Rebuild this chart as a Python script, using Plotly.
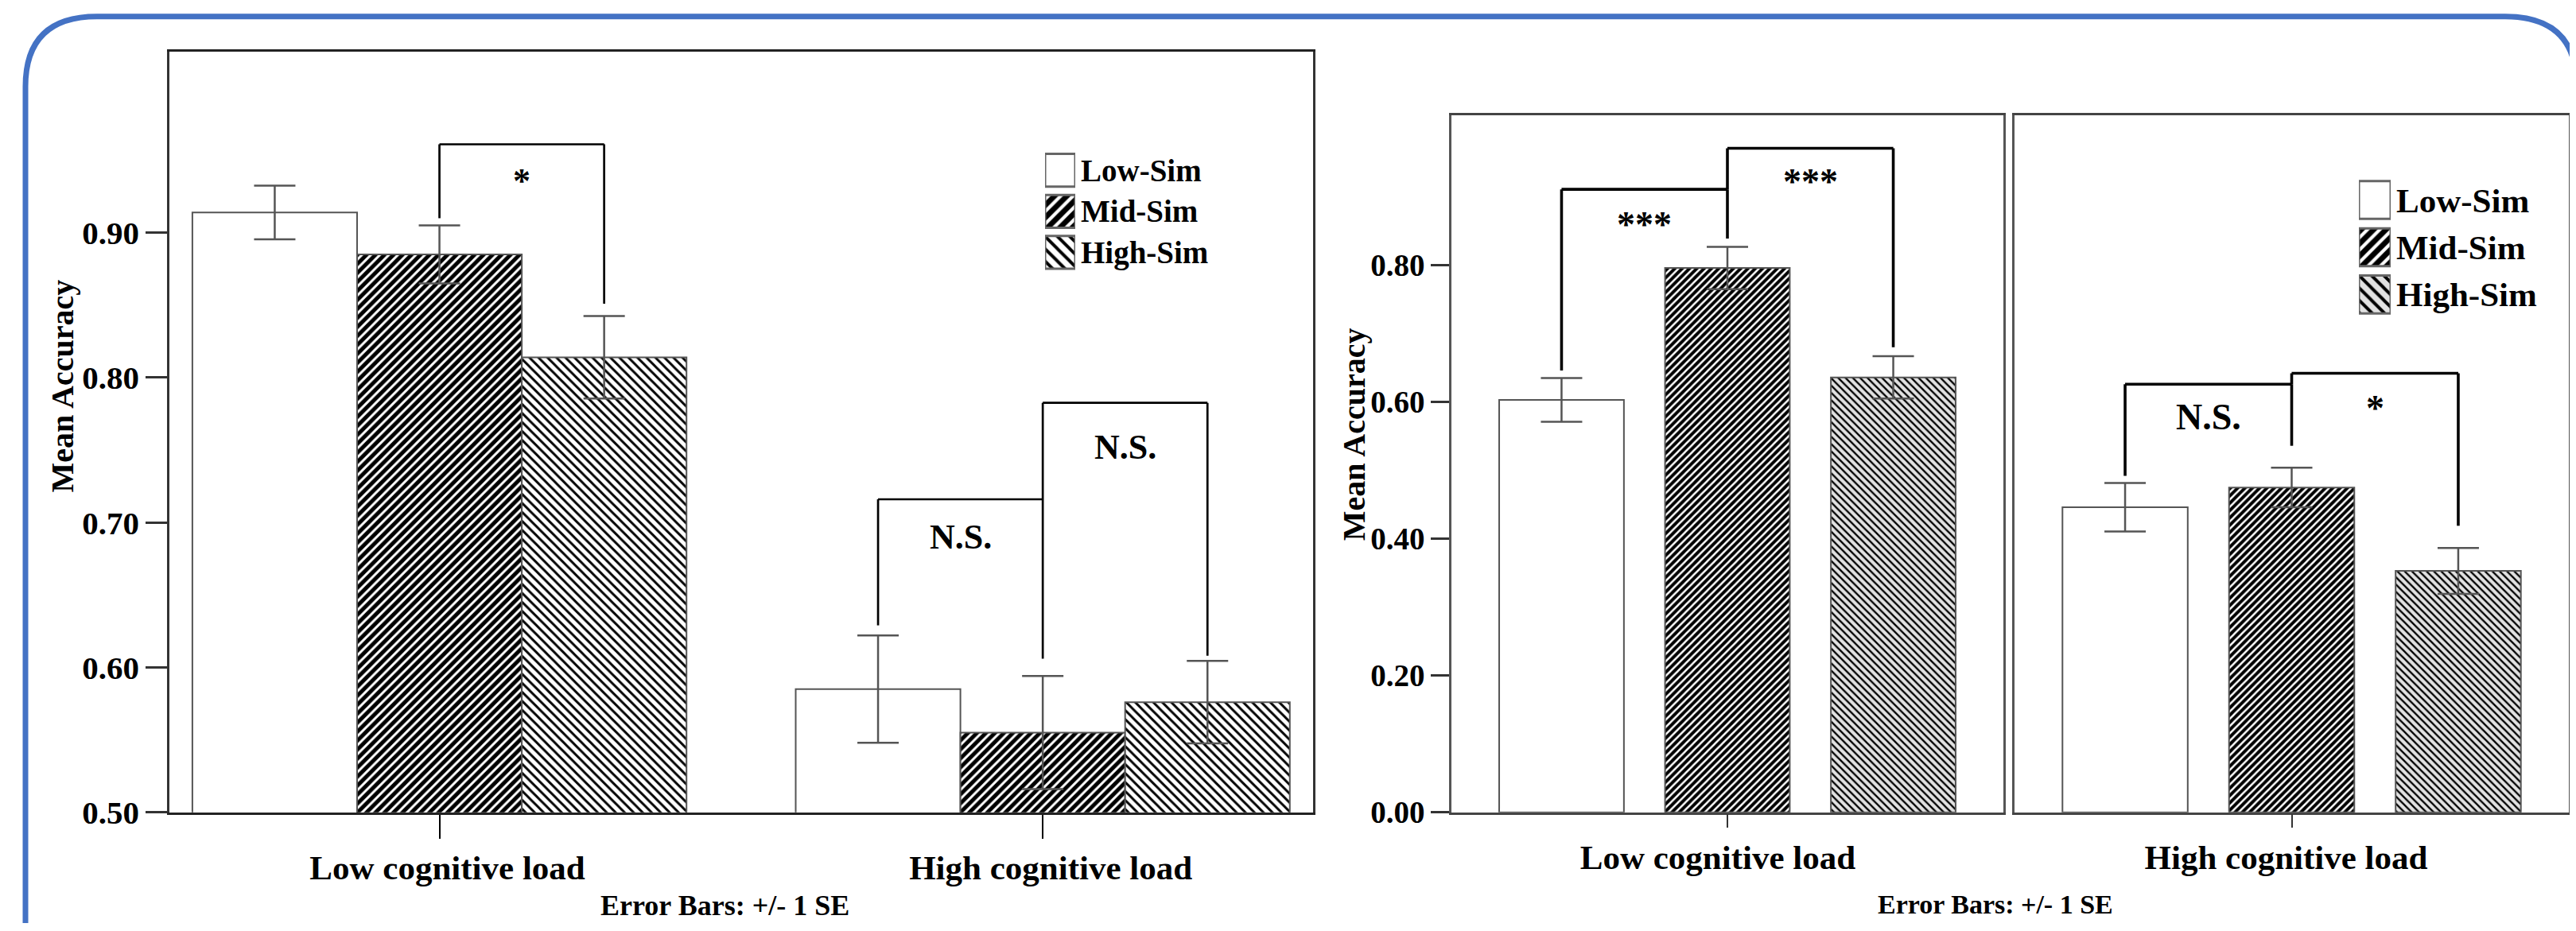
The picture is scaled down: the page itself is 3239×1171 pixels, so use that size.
import plotly.graph_objects as go

W, H = 3239, 1171

# ---------------- data ----------------
series = ["Low-Sim", "Mid-Sim", "High-Sim"]
loads = ["Low cognitive load", "High cognitive load"]

# left chart: mean accuracy and SE per load (low, high)
e1_low_sim = [0.914, 0.585]
e1_mid_sim = [0.885, 0.555]
e1_high_sim = [0.814, 0.576]
e1_low_sim_se = [0.0185, 0.037]
e1_mid_sim_se = [0.020, 0.039]
e1_high_sim_se = [0.0285, 0.0285]

# right chart
e2_low_sim = [0.603, 0.446]
e2_mid_sim = [0.796, 0.475]
e2_high_sim = [0.636, 0.353]
e2_low_sim_se = [0.032, 0.0355]
e2_mid_sim_se = [0.031, 0.029]
e2_high_sim_se = [0.031, 0.0335]

e1_ticks = [0.5, 0.6, 0.7, 0.8, 0.9]
e2_ticks = [0.0, 0.2, 0.4, 0.6, 0.8]

# significance brackets: load, series a, series b, top, leg a bottom, leg b bottom, label, label y
e1_brackets = [
    ("Low cognitive load", "Mid-Sim", "High-Sim", 0.961, 0.910, 0.851, "*", 0.936),
    ("High cognitive load", "Low-Sim", "Mid-Sim", 0.716, 0.629, 0.606, "N.S.", 0.690),
    ("High cognitive load", "Mid-Sim", "High-Sim", 0.7826, 0.716, 0.608, "N.S.", 0.752),
]
e2_brackets = [
    ("Low cognitive load", "Low-Sim", "Mid-Sim", 0.911, 0.646, 0.839, "***", 0.860),
    ("Low cognitive load", "Mid-Sim", "High-Sim", 0.971, 0.911, 0.680, "***", 0.922),
    ("High cognitive load", "Low-Sim", "Mid-Sim", 0.626, 0.492, 0.536, "N.S.", 0.578),
    ("High cognitive load", "Mid-Sim", "High-Sim", 0.642, 0.626, 0.419, "*", 0.591),
]

# ---------------- styles ----------------
FONT = "Liberation Serif"
E1_W = 0.273      # bar width (category units), left chart
E2_W = 0.226      # bar width, right chart
E2_STEP = 0.3005  # spacing between bar centres, right chart

e1_pat = {
    "Low-Sim": dict(shape="", fgcolor="black", bgcolor="white", size=8, solidity=0.3),
    "Mid-Sim": dict(shape="/", fgcolor="white", bgcolor="black", size=8, solidity=0.38),
    "High-Sim": dict(shape="\\", fgcolor="black", bgcolor="white", size=8, solidity=0.36),
}
e2_pat = {
    "Low-Sim": dict(shape="", fgcolor="black", bgcolor="white", size=6.5, solidity=0.3),
    "Mid-Sim": dict(shape="/", fgcolor="white", bgcolor="black", size=6.5, solidity=0.38),
    "High-Sim": dict(shape="\\", fgcolor="black", bgcolor="#e2e2e2", size=6.5, solidity=0.36),
}


def px(x):
    return x / W


def py(y):
    return 1 - y / H


fig = go.Figure()

e1_vals = {"Low-Sim": (e1_low_sim, e1_low_sim_se),
           "Mid-Sim": (e1_mid_sim, e1_mid_sim_se),
           "High-Sim": (e1_high_sim, e1_high_sim_se)}
e2_vals = {"Low-Sim": (e2_low_sim, e2_low_sim_se),
           "Mid-Sim": (e2_mid_sim, e2_mid_sim_se),
           "High-Sim": (e2_high_sim, e2_high_sim_se)}

e1_center = {s: (i - 1) * E1_W for i, s in enumerate(series)}
e2_center = {s: (i - 1) * E2_STEP for i, s in enumerate(series)}

# left chart bars
for s in series:
    vals, se = e1_vals[s]
    fig.add_trace(go.Bar(
        x=loads, y=vals, name=s, showlegend=False,
        offset=e1_center[s] - E1_W / 2, width=E1_W,
        marker=dict(color="white", pattern=dict(fgopacity=1, **e1_pat[s]),
                    line=dict(color="#555", width=2)),
        error_y=dict(type="data", array=se, color="#555", thickness=2.5, width=26),
        xaxis="x", yaxis="y",
    ))

# right chart bars (one panel per load)
for li, (load, xa) in enumerate(zip(loads, ["x2", "x3"])):
    ya = "y2" if xa == "x2" else "y3"
    for s in series:
        vals, se = e2_vals[s]
        fig.add_trace(go.Bar(
            x=[load], y=[vals[li]], name=s, showlegend=False,
            offset=e2_center[s] - E2_W / 2, width=E2_W,
            marker=dict(color="white", pattern=dict(fgopacity=1, **e2_pat[s]),
                        line=dict(color="#555", width=2)),
            error_y=dict(type="data", array=[se[li]], color="#555", thickness=2.5, width=26),
            xaxis=xa, yaxis=ya,
        ))

# legends drawn as swatch columns
for xa, ya, pats in [("x4", "y4", e1_pat), ("x5", "y5", e2_pat)]:
    fig.add_trace(go.Bar(
        y=series, x=[1 for _ in series], orientation="h", showlegend=False,
        width=0.8,
        marker=dict(
            color="white",
            line=dict(color="#666", width=3),
            pattern=dict(
                shape=[pats[s]["shape"] for s in series],
                fgcolor=[pats[s]["fgcolor"] for s in series],
                bgcolor=[pats[s]["bgcolor"] for s in series],
                solidity=[pats[s]["solidity"] for s in series],
                size=11, fgopacity=1,
            ),
        ),
        xaxis=xa, yaxis=ya, hoverinfo="skip",
    ))

shapes = []
annotations = []


def add_brackets(brackets, centers, width, fsize, xref_for_load):
    for load, a, b, top, la, lb, label, ly in brackets:
        xr = xref_for_load(load)
        idx = loads.index(load) if xr == "x" else 0
        xa = idx + centers[a]
        xb = idx + centers[b]
        yr = "y" if xr == "x" else ("y2" if xr == "x2" else "y3")
        line = dict(color="black", width=width)
        shapes.append(dict(type="line", xref=xr, yref=yr, x0=xa, x1=xa, y0=la, y1=top, line=line))
        shapes.append(dict(type="line", xref=xr, yref=yr, x0=xa, x1=xb, y0=top, y1=top, line=line))
        shapes.append(dict(type="line", xref=xr, yref=yr, x0=xb, x1=xb, y0=top, y1=lb, line=line))
        annotations.append(dict(
            xref=xr, yref=yr, x=(xa + xb) / 2, y=ly, text=label, showarrow=False,
            font=dict(family=FONT, size=fsize, color="black", weight="bold"),
            xanchor="center", yanchor="middle",
        ))


add_brackets(e1_brackets, e1_center, 2.7, 44, lambda l: "x")
add_brackets(e2_brackets, e2_center, 3.6, 46,
             lambda l: "x2" if l == loads[0] else "x3")

# y-axis titles
for xc, yc in [(70, 487), (1694, 549)]:
    annotations.append(dict(xref="paper", yref="paper", x=px(xc), y=py(yc), text="Mean Accuracy",
                            textangle=-90, showarrow=False, xanchor="center", yanchor="middle",
                            font=dict(family=FONT, size=40, color="black", weight="bold")))
# error-bar notes
for xc, yc, fs in [(903, 1154, 36), (2501, 1152, 34)]:
    annotations.append(dict(xref="paper", yref="paper", x=px(xc), y=py(yc), text="Error Bars: +/- 1 SE",
                            showarrow=False, xanchor="center", yanchor="middle",
                            font=dict(family=FONT, size=fs, color="black", weight="bold")))

# blue rounded border
L, T, R, RB, RAD = 24, 13, 3232, 106, 90
border = (f"M{px(L)},{py(H + 5)} L{px(L)},{py(T + RAD)} Q{px(L)},{py(T)} {px(L + RAD)},{py(T)} "
          f"L{px(R - RAD)},{py(T)} Q{px(R)},{py(T)} {px(R)},{py(T + RAD)} L{px(R)},{py(RB)}")
shapes.append(dict(type="path", xref="paper", yref="paper", path=border,
                   line=dict(color="#4472C4", width=7)))

tickfont_l = dict(family=FONT, size=41, color="black", weight="bold")
tickfont_r = dict(family=FONT, size=39, color="black", weight="bold")
catfont = dict(family=FONT, size=43, color="black", weight="bold")

fig.update_layout(
    width=W, height=H, margin=dict(l=0, r=0, t=0, b=0),
    paper_bgcolor="white", plot_bgcolor="white",
    barmode="group", showlegend=False,
    shapes=shapes, annotations=annotations,
    font=dict(family=FONT, color="black"),
    xaxis=dict(domain=[px(205), px(1643)], type="category", categoryorder="array",
               categoryarray=loads, range=[-0.4476, 1.448],
               showline=True, linecolor="#222", linewidth=3, mirror=True,
               ticks="outside", ticklen=30, tickwidth=2, tickcolor="black",
               tickfont=catfont, showgrid=False, anchor="y", ticklabelshift=10),
    yaxis=dict(domain=[py(1034), py(58)], range=[0.5, 1.025], tickvals=e1_ticks,
               tickformat=".2f", showline=True, linecolor="#333", linewidth=2.5, mirror=True,
               ticks="outside", ticklen=27, tickwidth=2.5, tickcolor="#333",
               tickfont=tickfont_l, showgrid=False, zeroline=False, anchor="x"),
    xaxis2=dict(domain=[px(1817), px(2511)], type="category", range=[-0.5, 0.5],
                showline=True, linecolor="#444", linewidth=2.5, mirror=True,
                ticks="outside", ticklen=17, tickwidth=2, tickcolor="#333",
                tickfont=catfont, showgrid=False, anchor="y2", ticklabelshift=-12),
    yaxis2=dict(domain=[py(1034), py(140)], range=[0, 1.019], tickvals=e2_ticks,
                tickformat=".2f", showline=True, linecolor="#555", linewidth=2.5, mirror=True,
                ticks="outside", ticklen=23, tickwidth=2.5, tickcolor="#333",
                tickfont=tickfont_r, showgrid=False, zeroline=False, anchor="x2"),
    xaxis3=dict(domain=[px(2525), px(3222)], type="category", range=[-0.5, 0.5],
                showline=True, linecolor="#444", linewidth=2.5, mirror=True,
                ticks="outside", ticklen=17, tickwidth=2, tickcolor="#333",
                tickfont=catfont, showgrid=False, anchor="y3", ticklabelshift=-7),
    yaxis3=dict(domain=[py(1034), py(140)], matches="y2", showticklabels=False, ticks="",
                showline=True, linecolor="#555", linewidth=2.5, mirror=True,
                showgrid=False, zeroline=False, anchor="x3"),
    xaxis4=dict(domain=[px(1306), px(1344)], range=[0, 1], visible=False, anchor="y4"),
    yaxis4=dict(domain=[py(342), py(184)], type="category", categoryorder="array",
                categoryarray=series, autorange="reversed", side="right",
                showline=False, showgrid=False, ticks="", ticklabelstandoff=6,
                tickfont=dict(family=FONT, size=39, color="black", weight="bold"), anchor="x4"),
    xaxis5=dict(domain=[px(2958), px(2998)], range=[0, 1], visible=False, anchor="y5"),
    yaxis5=dict(domain=[py(400), py(218)], type="category", categoryorder="array",
                categoryarray=series, autorange="reversed", side="right",
                showline=False, showgrid=False, ticks="", ticklabelstandoff=6,
                tickfont=dict(family=FONT, size=43, color="black", weight="bold"), anchor="x5"),
)

fig.write_html("out.html")
